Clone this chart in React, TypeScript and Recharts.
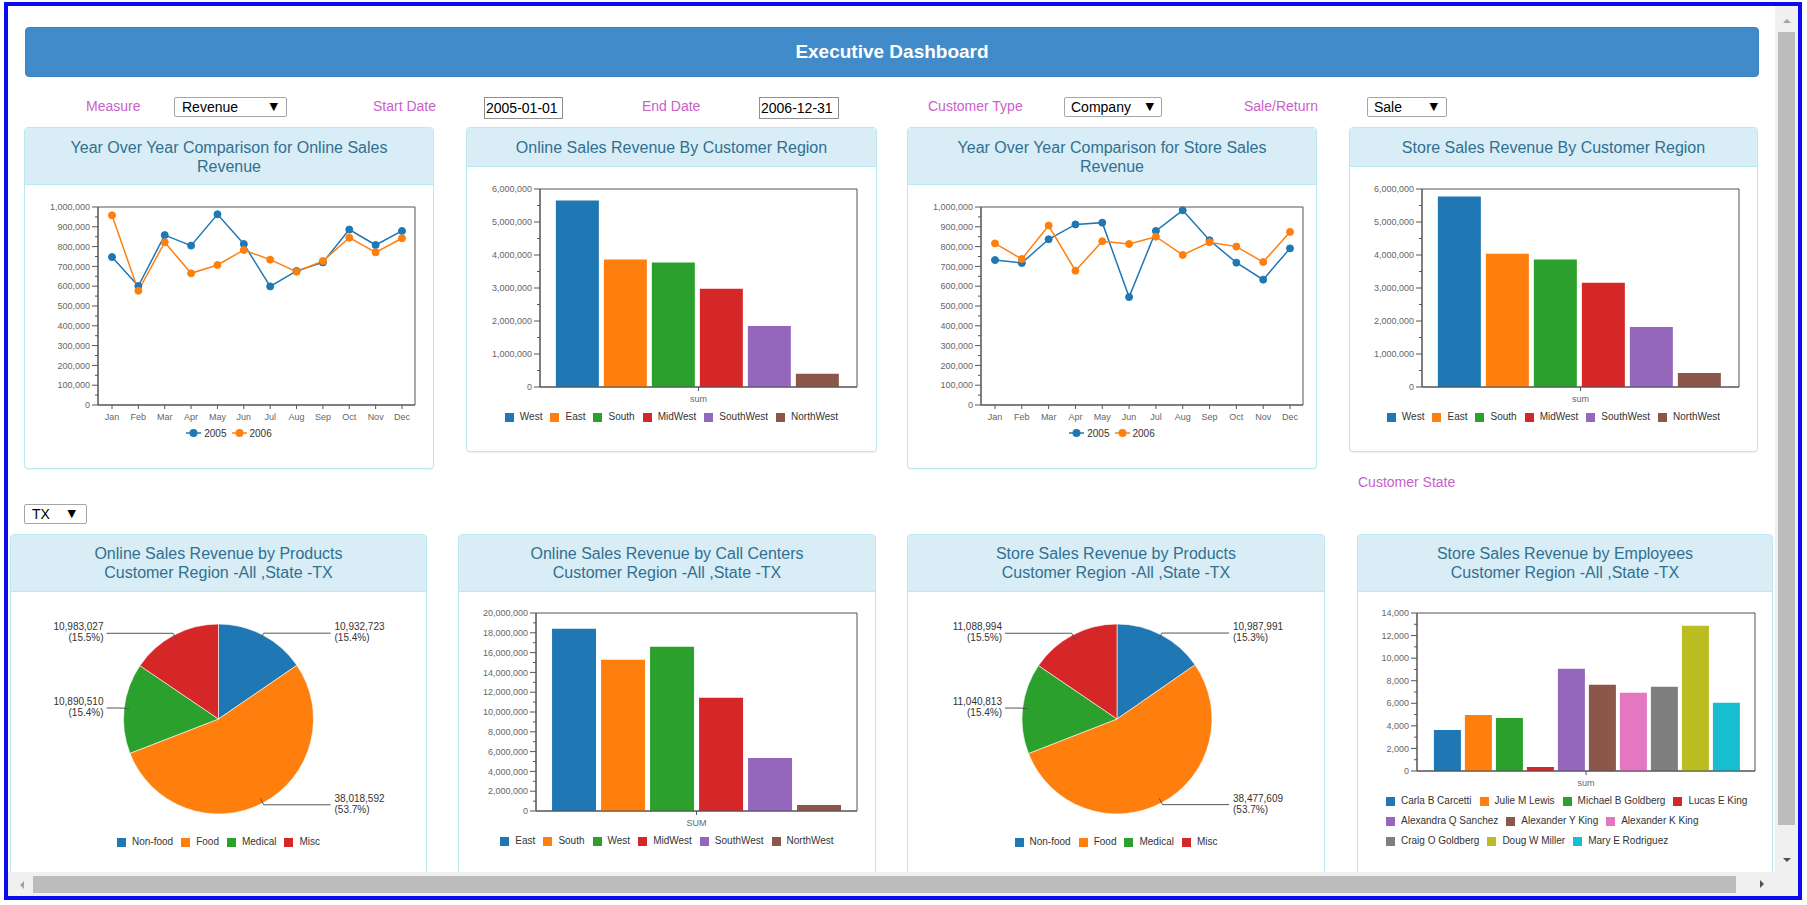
import React from 'react';
import { LineChart, Line, BarChart, Bar, PieChart, Pie, Cell, XAxis, YAxis, Legend, CartesianGrid } from 'recharts';

const FONT = '"Liberation Sans", Arial, sans-serif';
const PINK = '#c95fc9';
const COLORS = ['#1f77b4', '#ff7f0e', '#2ca02c', '#d62728', '#9467bd', '#8c564b', '#e377c2', '#7f7f7f', '#bcbd22', '#17becf'];

// ---------- data ----------
const MONTHS = ['Jan', 'Feb', 'Mar', 'Apr', 'May', 'Jun', 'Jul', 'Aug', 'Sep', 'Oct', 'Nov', 'Dec'];
const YEARS = ['2005', '2006'];
const ONLINE_2005 = [747000, 601000, 858000, 805000, 963000, 813000, 599000, 677000, 720000, 886000, 808000, 879000];
const ONLINE_2006 = [958000, 577000, 822000, 665000, 707000, 783000, 734000, 673000, 727000, 845000, 771000, 842000];
const STORE_2005 = [732000, 717000, 837000, 912000, 921000, 545000, 879000, 983000, 832000, 719000, 633000, 791000];
const STORE_2006 = [816000, 737000, 906000, 678000, 827000, 813000, 850000, 758000, 822000, 800000, 722000, 874000];

const REGIONS = ['West', 'East', 'South', 'MidWest', 'SouthWest', 'NorthWest'];
const ONLINE_REGION_VALUES = [5650000, 3860000, 3770000, 2980000, 1850000, 400000];
const STORE_REGION_VALUES = [5770000, 4040000, 3860000, 3160000, 1820000, 425000];

const CALL_CENTERS = ['East', 'South', 'West', 'MidWest', 'SouthWest', 'NorthWest'];
const CALL_CENTER_VALUES = [18410000, 15280000, 16590000, 11430000, 5360000, 610000];

const PRODUCTS = ['Non-food', 'Food', 'Medical', 'Misc'];
const ONLINE_PRODUCT_VALUES = [10932723, 38018592, 10890510, 10983027];
const STORE_PRODUCT_VALUES = [10987991, 38477609, 11040813, 11088994];

const EMPLOYEES = ['Carla B Carcetti', 'Julie M Lewis', 'Michael B Goldberg', 'Lucas E King', 'Alexandra Q Sanchez', 'Alexander Y King', 'Alexander K King', 'Craig O Goldberg', 'Doug W Miller', 'Mary E Rodriguez'];
const EMPLOYEE_VALUES = [3640, 4970, 4705, 355, 9056, 7635, 6925, 7458, 12874, 6037];

const steps = (max: number, step: number) => Array.from({ length: Math.round(max / step) + 1 }, (_, i) => i * step);
const YOY_TICKS = steps(1000000, 50000);
const REGION_TICKS = steps(6000000, 500000);
const CALL_TICKS = steps(20000000, 1000000);
const EMP_TICKS = steps(14000, 1000);

// ---------- helpers ----------
const boxH = (p: any) => [p.offset.top, p.offset.top + p.offset.height];
const boxV = (p: any) => [p.offset.left, p.offset.left + p.offset.width];

const yTick = (major: number) => (props: any) => {
  const { x, y, payload } = props;
  const v = payload && typeof payload.value === 'number' ? payload.value : 0;
  const isMajor = v % major === 0;
  const ax = x + 8;
  return (
    <g>
      <line x1={ax - (isMajor ? 6 : 3)} x2={ax} y1={y} y2={y} stroke="#555" />
      {isMajor ? (
        <text x={x} y={y} dy="0.35em" textAnchor="end" fontSize={9} fill="#666" fontFamily={FONT}>
          {v.toLocaleString('en-US')}
        </text>
      ) : null}
    </g>
  );
};

const sortPayload = (payload: any[] | undefined, order: string[]) =>
  [...(payload || [])].sort((a, b) => order.indexOf(String(a.value)) - order.indexOf(String(b.value)));

const squareLegend = (order: string[], height: number, justify: string) => (props: any) => {
  const items = sortPayload(props.payload, order);
  return (
    <div style={{ display: 'flex', flexWrap: 'wrap', justifyContent: justify, alignContent: 'flex-start', columnGap: 8, height, fontFamily: FONT, fontSize: 10, color: '#333', lineHeight: '20px' }}>
      {items.map((it: any) => (
        <div key={String(it.value)} style={{ display: 'flex', alignItems: 'center', whiteSpace: 'nowrap' }}>
          <span style={{ display: 'inline-block', width: 9, height: 9, background: COLORS[order.indexOf(String(it.value))], marginRight: 6 }} />
          {it.value}
        </div>
      ))}
    </div>
  );
};

const lineLegend = (props: any) => {
  const items = sortPayload(props.payload, YEARS);
  return (
    <div style={{ display: 'flex', justifyContent: 'center', alignItems: 'center', columnGap: 5, height: 20, fontFamily: FONT, fontSize: 10, color: '#333' }}>
      {items.map((it: any) => {
        const c = COLORS[YEARS.indexOf(String(it.value))];
        return (
          <div key={String(it.value)} style={{ display: 'flex', alignItems: 'center' }}>
            <svg width={15} height={10} style={{ marginRight: 3 }}>
              <line x1={0} x2={15} y1={5} y2={5} stroke={c} strokeWidth={1.5} />
              <circle cx={7.5} cy={5} r={4} fill={c} />
            </svg>
            {it.value}
          </div>
        );
      })}
    </div>
  );
};

const RAD = Math.PI / 180;
const pieLabel = (p: any) => {
  const { cx, cy, midAngle, outerRadius, value, percent } = p;
  const cos = Math.cos(-midAngle * RAD);
  const sin = Math.sin(-midAngle * RAD);
  const sx = cx + (outerRadius - 5) * cos;
  const sy = cy + (outerRadius - 5) * sin;
  const mx = cx + (outerRadius + 2) * cos;
  const my = cy + (outerRadius + 2) * sin;
  const right = cos >= 0;
  const ex = cx + (right ? 112 : -112);
  const tx = cx + (right ? 116 : -115);
  const anchor = right ? 'start' : 'end';
  return (
    <g>
      <polyline points={`${sx},${sy} ${mx},${my} ${ex},${my}`} stroke="#555" fill="none" strokeWidth={1} />
      <text x={tx} y={my} textAnchor={anchor} fontSize={10} fill="#333" fontFamily={FONT}>
        <tspan x={tx} dy={-3}>{Number(value).toLocaleString('en-US')}</tspan>
        <tspan x={tx} dy={11}>{`(${(percent * 100).toFixed(1)}%)`}</tspan>
      </text>
    </g>
  );
};

// ---------- chart components ----------
function YoYChart({ a, b, width, height, right }: { a: number[]; b: number[]; width: number; height: number; right: number }) {
  const data = MONTHS.map((m, i) => ({ month: m, a: a[i], b: b[i] }));
  return (
    <LineChart width={width} height={height} data={data} margin={{ top: 22, right, bottom: 26, left: 0 }}>
      <CartesianGrid stroke="#555" fill="none" horizontalCoordinatesGenerator={boxH} verticalCoordinatesGenerator={boxV} />
      <XAxis dataKey="month" padding={{ left: 14, right: 13 }} tickSize={4} tickMargin={5} height={18} interval={0} tick={{ fontSize: 9, fill: '#666', fontFamily: FONT }} stroke="#555" />
      <YAxis width={74} domain={[0, 1000000]} ticks={YOY_TICKS} interval={0} tick={yTick(100000)} tickLine={false} tickSize={6} tickMargin={2} stroke="#555" />
      <Line dataKey="a" name={YEARS[0]} stroke={COLORS[0]} strokeWidth={1.5} dot={{ r: 3.5, fill: COLORS[0], stroke: COLORS[0], strokeWidth: 1 }} isAnimationActive={false} />
      <Line dataKey="b" name={YEARS[1]} stroke={COLORS[1]} strokeWidth={1.5} dot={{ r: 3.5, fill: COLORS[1], stroke: COLORS[1], strokeWidth: 1 }} isAnimationActive={false} />
      <Legend content={lineLegend} wrapperStyle={{ left: 0, width }} />
    </LineChart>
  );
}

function GroupBars(props: {
  names: string[]; values: number[]; cat: string; width: number; height: number;
  margin: { top: number; right: number; bottom: number; left: number }; yWidth: number;
  max: number; major: number; ticks: number[]; gap: number; legendH: number; legendLeft: number; legendWidth: number; justify: string;
}) {
  const { names, values, cat, width, height, margin, yWidth, max, major, ticks, gap, legendH, legendLeft, legendWidth, justify } = props;
  const row: Record<string, any> = { name: cat };
  names.forEach((n, i) => { row['k' + i] = values[i]; });
  return (
    <BarChart width={width} height={height} data={[row]} margin={margin} barCategoryGap="5%" barGap={gap}>
      <CartesianGrid stroke="#555" fill="none" horizontalCoordinatesGenerator={boxH} verticalCoordinatesGenerator={boxV} />
      <XAxis dataKey="name" tickSize={4} tickMargin={5} height={20} tick={{ fontSize: 9, fill: '#666', fontFamily: FONT }} stroke="#555" />
      <YAxis width={yWidth} domain={[0, max]} ticks={ticks} interval={0} tick={yTick(major)} tickLine={false} tickSize={6} tickMargin={2} stroke="#555" />
      {names.map((n, i) => (
        <Bar key={n} dataKey={'k' + i} name={n} fill={COLORS[i]} isAnimationActive={false} />
      ))}
      <Legend content={squareLegend(names, legendH, justify)} wrapperStyle={{ left: legendLeft, width: legendWidth }} />
    </BarChart>
  );
}

function ProductPie({ values, width, height, cx }: { values: number[]; width: number; height: number; cx: number }) {
  const data = PRODUCTS.map((n, i) => ({ name: n, value: values[i] }));
  return (
    <PieChart width={width} height={height} margin={{ top: 0, right: 0, bottom: 0, left: 0 }}>
      <Pie data={data} dataKey="value" nameKey="name" cx={cx} cy={127} outerRadius={95} startAngle={90} endAngle={-270}
        label={pieLabel} labelLine={false} stroke="#fff" strokeWidth={0.6} isAnimationActive={false}>
        {data.map((d, i) => <Cell key={d.name} fill={COLORS[i]} />)}
      </Pie>
      <Legend content={squareLegend(PRODUCTS, 20, 'center')} wrapperStyle={{ left: 0, width }} />
    </PieChart>
  );
}

// ---------- layout pieces ----------
function Panel({ x, y, w, h, headerH, lines, pt }: { x: number; y: number; w: number; h: number; headerH: number; lines: string[]; pt: number }) {
  return (
    <div style={{ position: 'absolute', left: x, top: y, width: w, height: h, border: '1px solid #bce8f1', borderRadius: 4, background: '#fff', boxSizing: 'border-box', boxShadow: '0 1px 1px rgba(0,0,0,0.06)' }}>
      <div style={{ height: headerH - 1, background: '#d9edf7', borderBottom: '1px solid #bce8f1', borderRadius: '3px 3px 0 0', boxSizing: 'border-box', paddingTop: pt - 1, textAlign: 'center', color: '#31708f', fontSize: 16, lineHeight: '19px' }}>
        {lines.map((l) => <div key={l}>{l}</div>)}
      </div>
    </div>
  );
}

const Abs = ({ x, y, children }: { x: number; y: number; children: React.ReactNode }) => (
  <div style={{ position: 'absolute', left: x, top: y }}>{children}</div>
);

const Label = ({ x, y, text }: { x: number; y: number; text: string }) => (
  <div style={{ position: 'absolute', left: x, top: y - 9, fontSize: 14, lineHeight: '18px', color: PINK, whiteSpace: 'nowrap' }}>{text}</div>
);

const Select = ({ x, y, w, h, text, pad, arrowRight }: { x: number; y: number; w: number; h: number; text: string; pad: number; arrowRight: number }) => (
  <div style={{ position: 'absolute', left: x, top: y, width: w, height: h, border: '1px solid #a6a6a6', borderRadius: 2, boxSizing: 'border-box', background: '#fff', fontSize: 14, lineHeight: `${h - 2}px`, paddingLeft: pad - 1, color: '#000' }}>
    {text}
    <span style={{ position: 'absolute', right: arrowRight - 1, top: 0, fontSize: 11, fontFamily: '"DejaVu Sans", sans-serif' }}>▼</span>
  </div>
);

const Input = ({ x, y, w, h, text }: { x: number; y: number; w: number; h: number; text: string }) => (
  <div style={{ position: 'absolute', left: x, top: y, width: w, height: h, border: '1px solid #8f8f8f', boxSizing: 'border-box', background: '#fff', fontSize: 14, lineHeight: `${h - 2}px`, paddingLeft: 1, color: '#000' }}>{text}</div>
);

const tri = (dir: 'up' | 'down' | 'left' | 'right', color: string, cx: number, cy: number) => {
  const s: React.CSSProperties = { position: 'absolute', width: 0, height: 0 };
  if (dir === 'up') Object.assign(s, { left: cx - 4, top: cy - 2, borderLeft: '4px solid transparent', borderRight: '4px solid transparent', borderBottom: `4px solid ${color}` });
  if (dir === 'down') Object.assign(s, { left: cx - 4, top: cy - 2, borderLeft: '4px solid transparent', borderRight: '4px solid transparent', borderTop: `4px solid ${color}` });
  if (dir === 'left') Object.assign(s, { left: cx - 2, top: cy - 4, borderTop: '4px solid transparent', borderBottom: '4px solid transparent', borderRight: `4px solid ${color}` });
  if (dir === 'right') Object.assign(s, { left: cx - 2, top: cy - 4, borderTop: '4px solid transparent', borderBottom: '4px solid transparent', borderLeft: `4px solid ${color}` });
  return <div style={s} />;
};

export default function App() {
  return (
    <div style={{ position: 'absolute', left: 0, top: 0, width: 1807, height: 905, overflow: 'hidden', background: '#fff', fontFamily: FONT }}>
      {/* header bar */}
      <div style={{ position: 'absolute', left: 25, top: 27, width: 1734, height: 50, background: '#428bca', border: '1px solid #3c84c2', boxSizing: 'border-box', borderRadius: 4, color: '#fff', fontSize: 19, fontWeight: 'bold', lineHeight: '48px', textAlign: 'center' }}>
        Executive Dashboard
      </div>

      {/* controls */}
      <Label x={86} y={106} text="Measure" />
      <Select x={174} y={97} w={113} h={20} text="Revenue" pad={8} arrowRight={9} />
      <Label x={373} y={106} text="Start Date" />
      <Input x={484} y={97} w={79} h={22} text="2005-01-01" />
      <Label x={642} y={106} text="End Date" />
      <Input x={759} y={97} w={80} h={22} text="2006-12-31" />
      <Label x={928} y={106} text="Customer Type" />
      <Select x={1064} y={97} w={98} h={20} text="Company" pad={7} arrowRight={8} />
      <Label x={1244} y={106} text="Sale/Return" />
      <Select x={1367} y={97} w={80} h={20} text="Sale" pad={7} arrowRight={9} />

      {/* top row panels */}
      <Panel x={24} y={127} w={410} h={342} headerH={58} pt={11} lines={['Year Over Year Comparison for Online Sales', 'Revenue']} />
      <Panel x={466} y={127} w={411} h={325} headerH={40} pt={11} lines={['Online Sales Revenue By Customer Region']} />
      <Panel x={907} y={127} w={410} h={342} headerH={58} pt={11} lines={['Year Over Year Comparison for Store Sales', 'Revenue']} />
      <Panel x={1349} y={127} w={409} h={325} headerH={40} pt={11} lines={['Store Sales Revenue By Customer Region']} />

      <Abs x={24} y={185}><YoYChart a={ONLINE_2005} b={ONLINE_2006} width={410} height={284} right={19} /></Abs>
      <Abs x={466} y={167}>
        <GroupBars names={REGIONS} values={ONLINE_REGION_VALUES} cat="sum" width={411} height={285} margin={{ top: 22, right: 20, bottom: 25, left: 0 }} yWidth={74}
          max={6000000} major={1000000} ticks={REGION_TICKS} gap={5} legendH={20} legendLeft={0} legendWidth={411} justify="center" />
      </Abs>
      <Abs x={907} y={185}><YoYChart a={STORE_2005} b={STORE_2006} width={410} height={284} right={14} /></Abs>
      <Abs x={1349} y={167}>
        <GroupBars names={REGIONS} values={STORE_REGION_VALUES} cat="sum" width={409} height={285} margin={{ top: 22, right: 19, bottom: 25, left: 0 }} yWidth={73}
          max={6000000} major={1000000} ticks={REGION_TICKS} gap={5} legendH={20} legendLeft={0} legendWidth={409} justify="center" />
      </Abs>

      <Label x={1358} y={482} text="Customer State" />
      <Select x={24} y={504} w={63} h={20} text="TX" pad={8} arrowRight={11} />

      {/* bottom row panels */}
      <Panel x={10} y={534} w={417} h={351} headerH={58} pt={10} lines={['Online Sales Revenue by Products', 'Customer Region -All ,State -TX']} />
      <Panel x={458} y={534} w={418} h={351} headerH={58} pt={10} lines={['Online Sales Revenue by Call Centers', 'Customer Region -All ,State -TX']} />
      <Panel x={907} y={534} w={418} h={351} headerH={58} pt={10} lines={['Store Sales Revenue by Products', 'Customer Region -All ,State -TX']} />
      <Panel x={1357} y={534} w={416} h={351} headerH={58} pt={10} lines={['Store Sales Revenue by Employees', 'Customer Region -All ,State -TX']} />

      <Abs x={10} y={592}><ProductPie values={ONLINE_PRODUCT_VALUES} width={417} height={260} cx={208.5} /></Abs>
      <Abs x={458} y={592}>
        <GroupBars names={CALL_CENTERS} values={CALL_CENTER_VALUES} cat="SUM" width={418} height={265} margin={{ top: 21, right: 19, bottom: 6, left: 0 }} yWidth={78}
          max={20000000} major={2000000} ticks={CALL_TICKS} gap={5} legendH={20} legendLeft={0} legendWidth={418} justify="center" />
      </Abs>
      <Abs x={907} y={592}><ProductPie values={STORE_PRODUCT_VALUES} width={418} height={260} cx={210} /></Abs>
      <Abs x={1357} y={592}>
        <GroupBars names={EMPLOYEES} values={EMPLOYEE_VALUES} cat="sum" width={416} height={265} margin={{ top: 21, right: 18, bottom: 6, left: 0 }} yWidth={60}
          max={14000} major={2000} ticks={EMP_TICKS} gap={4} legendH={60} legendLeft={29} legendWidth={374} justify="flex-start" />
      </Abs>

      {/* scrollbars */}
      <div style={{ position: 'absolute', left: 1775, top: 6, width: 23, height: 866, background: '#f0f0f0' }} />
      <div style={{ position: 'absolute', left: 1778, top: 32, width: 17, height: 793, background: '#bcbcbc' }} />
      {tri('up', '#a3a3a3', 1787, 21)}
      {tri('down', '#505050', 1787, 860)}
      <div style={{ position: 'absolute', left: 8, top: 872, width: 1790, height: 24, background: '#f0f0f0' }} />
      <div style={{ position: 'absolute', left: 33, top: 876, width: 1703, height: 17, background: '#bcbcbc' }} />
      {tri('left', '#a3a3a3', 22, 885)}
      {tri('right', '#505050', 1762, 884)}

      {/* window frame */}
      <div style={{ position: 'absolute', left: 4, top: 2, width: 1798, height: 898, border: '4px solid #0b0bee', boxSizing: 'border-box', pointerEvents: 'none' }} />
    </div>
  );
}
